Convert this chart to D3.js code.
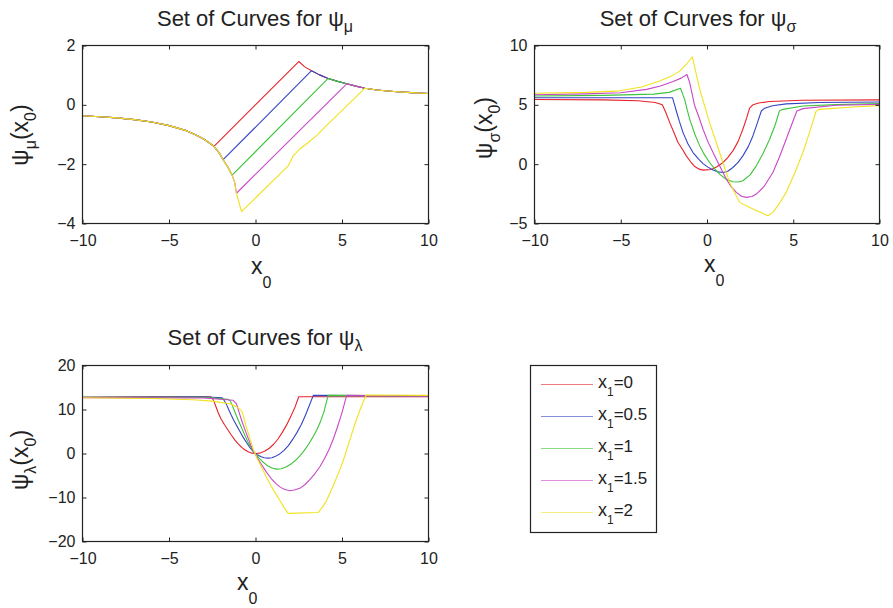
<!DOCTYPE html>
<html>
<head>
<meta charset="utf-8">
<script src="https://cdn.jsdelivr.net/npm/d3@7"></script>
<style>
  body { margin: 0; background: #fff; }
  svg { font-family: "Liberation Sans", Arial, Helvetica, sans-serif; }
</style>
</head>
<body>
<svg id="chart" width="893" height="608"></svg>
<script>
// x1 levels shown in the legend
var x1Labels = ['0', '0.5', '1', '1.5', '2']
var seriesColors = ['#e8232a', '#3445c2', '#3cc43a', '#c848c8', '#f0e21e']

var xTicks = [-10, -5, 0, 5, 10]
var muTicks = [-4, -2, 0, 2]
var sigmaTicks = [-5, 0, 5, 10]
var lambdaTicks = [-20, -10, 0, 10, 20]

// psi_mu curves
var muX1_0 = [[-10,-0.37],[-9,-0.4],[-8,-0.44],[-7,-0.5],[-6,-0.58],[-5,-0.7],[-4,-0.87],[-3.5,-1.0],[-3,-1.15],[-2.7,-1.27],[-2.4,-1.4],
  [2.5,1.46],[2.85,1.28],[3.24,1.15],[3.7,1.01],[4.2,0.89],[4.7,0.8],[5.27,0.71],[5.8,0.63],[6.33,0.56],[7,0.5],[8,0.45],[9,0.41],[10,0.38]]
var muX1_05 = [[-10,-0.37],[-9,-0.4],[-8,-0.44],[-7,-0.5],[-6,-0.58],[-5,-0.7],[-4,-0.87],[-3.5,-1.0],[-3,-1.15],[-2.7,-1.27],[-2.4,-1.4],[-2.1,-1.62],[-1.87,-1.85],
  [3.24,1.15],[3.7,1.01],[4.2,0.89],[4.7,0.8],[5.27,0.71],[5.8,0.63],[6.33,0.56],[7,0.5],[8,0.45],[9,0.41],[10,0.38]]
var muX1_1 = [[-10,-0.37],[-9,-0.4],[-8,-0.44],[-7,-0.5],[-6,-0.58],[-5,-0.7],[-4,-0.87],[-3.5,-1.0],[-3,-1.15],[-2.7,-1.27],[-2.4,-1.4],[-2.1,-1.62],[-1.87,-1.85],[-1.6,-2.1],[-1.35,-2.37],
  [4.2,0.89],[4.7,0.8],[5.27,0.71],[5.8,0.63],[6.33,0.56],[7,0.5],[8,0.45],[9,0.41],[10,0.38]]
var muX1_15 = [[-10,-0.37],[-9,-0.4],[-8,-0.44],[-7,-0.5],[-6,-0.58],[-5,-0.7],[-4,-0.87],[-3.5,-1.0],[-3,-1.15],[-2.7,-1.27],[-2.4,-1.4],[-2.1,-1.62],[-1.87,-1.85],[-1.6,-2.1],[-1.35,-2.37],[-1.2,-2.62],[-1.1,-2.98],
  [5.27,0.71],[5.8,0.63],[6.33,0.56],[7,0.5],[8,0.45],[9,0.41],[10,0.38]]
var muX1_2 = [[-10,-0.37],[-9,-0.4],[-8,-0.44],[-7,-0.5],[-6,-0.58],[-5,-0.7],[-4,-0.87],[-3.5,-1.0],[-3,-1.15],[-2.7,-1.27],[-2.4,-1.4],[-2.1,-1.62],[-1.87,-1.85],[-1.6,-2.1],[-1.35,-2.37],[-1.2,-2.62],[-1.1,-2.98],[-0.95,-3.3],[-0.81,-3.6],
  [1.89,-2.06],[2.18,-1.72],[2.56,-1.49],[3.05,-1.27],[3.53,-1.04],[3.92,-0.8],[6.33,0.56],[7,0.5],[8,0.45],[9,0.41],[10,0.38]]

// psi_sigma curves
var sigmaX1_0 = [[-10,5.45],[-6,5.42],[-4,5.35],[-3,5.2],[-2.59,5.0],[-2.4,4.4],[-2.16,3.5],[-1.9,2.6],[-1.68,1.82],[-1.4,1.2],[-1.2,0.7],[-0.95,0.2],[-0.71,-0.2],[-0.45,-0.42],[-0.23,-0.5],[0.25,-0.45],[0.6,-0.2],[0.93,0.14],[1.2,0.55],[1.5,1.12],[1.8,1.9],[2.08,2.94],[2.3,3.9],[2.47,4.72],[2.66,5.0],[3.0,5.15],[3.63,5.28],[5.56,5.39],[10,5.42]]
var sigmaX1_05 = [[-10,5.6],[-5,5.6],[-2.0,5.6],[-1.9,5.1],[-1.78,4.48],[-1.6,3.6],[-1.39,2.66],[-1.1,1.7],[-0.81,0.98],[-0.5,0.45],[-0.23,0.05],[0.05,-0.25],[0.35,-0.5],[0.65,-0.65],[0.93,-0.7],[1.2,-0.6],[1.5,-0.28],[1.8,0.15],[2.08,0.7],[2.4,1.5],[2.66,2.38],[2.9,3.4],[3.15,4.48],[3.34,4.72],[3.8,4.92],[4.59,5.08],[6.52,5.2],[10,5.24]]
var sigmaX1_1 = [[-10,5.75],[-6,5.8],[-3.09,5.9],[-2.2,6.05],[-1.54,6.4],[-1.42,5.95],[-1.29,5.42],[-1.15,4.6],[-1.0,3.78],[-0.7,2.5],[-0.42,1.54],[-0.15,0.8],[0.15,0.14],[0.45,-0.4],[0.73,-0.84],[1.1,-1.25],[1.5,-1.48],[1.8,-1.5],[2.08,-1.4],[2.5,-0.9],[2.86,-0.14],[3.25,0.9],[3.63,2.1],[3.95,3.3],[4.2,4.48],[4.4,4.62],[5.56,4.9],[7.5,5.02],[10,5.1]]
var sigmaX1_15 = [[-10,5.85],[-7,5.92],[-5.02,6.02],[-3.5,6.3],[-2.7,6.58],[-2.0,6.95],[-1.5,7.25],[-1.16,7.56],[-1.0,6.86],[-0.71,4.9],[-0.5,4.1],[-0.23,2.94],[0.05,1.9],[0.35,0.98],[0.75,-0.2],[1.12,-1.26],[1.4,-1.9],[1.7,-2.38],[2.0,-2.7],[2.28,-2.8],[2.6,-2.72],[2.86,-2.52],[3.3,-1.9],[3.82,-0.7],[4.2,0.6],[4.59,2.1],[4.9,3.3],[5.21,4.48],[5.56,4.68],[7.49,4.96],[10,5.04]]
var sigmaX1_2 = [[-10,5.98],[-7,6.05],[-5.06,6.18],[-3.8,6.5],[-2.74,7.0],[-2.1,7.4],[-1.58,7.84],[-1.2,8.4],[-0.85,9.05],[-0.42,6.3],[0.15,3.5],[0.73,0.98],[1.31,-1.54],[1.89,-3.22],[2.66,-3.78],[3.53,-4.34],[3.82,-4.06],[4.2,-3.3],[4.59,-2.38],[5.1,-0.7],[5.56,0.98],[5.95,2.7],[6.33,4.48],[6.52,4.62],[8.46,4.82],[10,4.93]]

// psi_lambda curves
var lambdaX1_0 = [[-10,12.8],[-6,12.9],[-2.6,12.9],[-2.45,12.3],[-2.3,10.8],[-2.15,9.2],[-2.0,7.9],[-1.8,6.6],[-1.6,5.4],[-1.4,4.2],[-1.2,3.1],[-1.0,2.2],[-0.8,1.4],[-0.6,0.8],[-0.4,0.35],[-0.2,0.08],[0.05,0],[0.3,0.15],[0.55,0.55],[0.8,1.2],[1.05,2.1],[1.3,3.3],[1.55,4.8],[1.8,6.5],[2.05,8.5],[2.3,10.7],[2.5,12.9],[5,12.9],[10,12.9]]
var lambdaX1_05 = [[-10,12.8],[-3,12.9],[-1.92,12.68],[-1.8,12.0],[-1.68,11.17],[-1.55,10.0],[-1.4,8.7],[-1.25,7.5],[-1.1,6.4],[-0.9,5.0],[-0.7,3.6],[-0.5,2.4],[-0.3,1.2],[-0.1,0.3],[0.1,-0.3],[0.3,-0.7],[0.5,-0.95],[0.73,-1.06],[0.95,-0.95],[1.15,-0.65],[1.4,-0.1],[1.65,0.7],[1.9,1.8],[2.15,3.2],[2.4,4.8],[2.65,6.6],[2.9,8.8],[3.1,10.8],[3.34,13.2],[10,13.1]]
var lambdaX1_1 = [[-10,12.8],[-3,12.8],[-1.58,12.3],[-1.45,11.9],[-1.35,11.0],[-1.2,9.5],[-1.0,7.6],[-0.8,5.8],[-0.6,4.0],[-0.4,2.3],[-0.2,1.0],[0,-0.1],[0.2,-1.0],[0.45,-2.0],[0.7,-2.8],[0.95,-3.3],[1.21,-3.55],[1.5,-3.45],[1.79,-3.02],[2.05,-2.4],[2.3,-1.6],[2.55,-0.6],[2.8,0.6],[3.05,2.0],[3.3,3.6],[3.55,5.4],[3.75,7.2],[3.95,9.4],[4.2,13.2],[10,13.1]]
var lambdaX1_15 = [[-10,12.7],[-3,12.6],[-1.29,12.1],[-1.1,11.3],[-0.95,9.4],[-0.81,7.6],[-0.6,5.3],[-0.4,3.2],[-0.2,1.2],[0,-0.3],[0.3,-2.2],[0.64,-4.3],[0.95,-5.9],[1.2,-6.9],[1.45,-7.7],[1.7,-8.2],[1.98,-8.45],[2.25,-8.3],[2.56,-7.92],[2.85,-7.1],[3.15,-5.9],[3.45,-4.5],[3.72,-3.0],[4.0,-1.1],[4.25,0.9],[4.5,3.3],[4.75,6.2],[5.0,9.3],[5.27,13.2],[10,13.0]]
var lambdaX1_2 = [[-10,12.68],[-6,12.5],[-3.6,12.2],[-2.5,11.9],[-1.48,11.3],[-1.1,10.6],[-0.81,9.8],[-0.7,8.5],[-0.52,5.89],[-0.3,3.1],[-0.13,0.98],[0.1,-1.2],[0.4,-3.5],[0.64,-5.43],[0.9,-7.4],[1.15,-9.0],[1.41,-10.7],[1.65,-12.3],[1.89,-13.6],[3.63,-13.4],[3.85,-12.3],[4.11,-10.7],[4.35,-8.6],[4.6,-6.3],[4.85,-3.9],[5.07,-1.66],[5.3,1.2],[5.55,4.3],[5.85,7.9],[6.1,10.5],[6.39,13.3],[10,13.2]]

var svg = d3.select('#chart')
svg.append('rect').attr('width', 893).attr('height', 608).attr('fill', '#fff')

// panel boxes (pixels) - matched to the reference layout
var panels = [
  { sym: 'μ', box: [82.5, 428.5, 45.5, 223.5], yDomain: [-4, 2], yTicks: muTicks,
    series: [muX1_0, muX1_05, muX1_1, muX1_15, muX1_2],
    titleX: 255, titleY: 26, ylabX: 28, ylabY: 135, xlabX: 251, xlabY: 274 },
  { sym: 'σ', box: [534.5, 879.5, 45.5, 223.5], yDomain: [-5, 10], yTicks: sigmaTicks,
    series: [sigmaX1_0, sigmaX1_05, sigmaX1_1, sigmaX1_15, sigmaX1_2],
    titleX: 698, titleY: 26, ylabX: 492, ylabY: 128, xlabX: 704, xlabY: 272 },
  { sym: 'λ', box: [82.5, 428.5, 365.5, 541.5], yDomain: [-20, 20], yTicks: lambdaTicks,
    series: [lambdaX1_0, lambdaX1_05, lambdaX1_1, lambdaX1_15, lambdaX1_2],
    titleX: 265, titleY: 345, ylabX: 28, ylabY: 460, xlabX: 237, xlabY: 590 }
]

panels.forEach(function(p) {
  var x = d3.scaleLinear().domain([-10, 10]).range([p.box[0], p.box[1]])
  var y = d3.scaleLinear().domain(p.yDomain).range([p.box[3], p.box[2]])
  var g = svg.append('g')

  var line = d3.line()
    .x(function(d) { return x(d[0]) })
    .y(function(d) { return y(d[1]) })

  g.selectAll('path.curve')
    .data(p.series)
    .enter().append('path')
    .attr('class', 'curve')
    .attr('d', line)
    .attr('fill', 'none')
    .attr('stroke', function(d, i) { return seriesColors[i] })
    .attr('stroke-width', 1.1)
    .attr('stroke-linejoin', 'round')

  // axes with inward ticks, box on
  var fmt = d3.format('d')
  var bottom = g.append('g').attr('transform', 'translate(0,' + p.box[3] + ')')
    .call(d3.axisBottom(x).tickValues(xTicks).tickFormat(fmt).tickSizeInner(-4).tickSizeOuter(0).tickPadding(11))
  var top = g.append('g').attr('transform', 'translate(0,' + p.box[2] + ')')
    .call(d3.axisTop(x).tickValues(xTicks).tickSizeInner(-4).tickSizeOuter(0).tickFormat(''))
  var left = g.append('g').attr('transform', 'translate(' + p.box[0] + ',0)')
    .call(d3.axisLeft(y).tickValues(p.yTicks).tickFormat(fmt).tickSizeInner(-4).tickSizeOuter(0).tickPadding(7))
  var right = g.append('g').attr('transform', 'translate(' + p.box[1] + ',0)')
    .call(d3.axisRight(y).tickValues(p.yTicks).tickSizeInner(-4).tickSizeOuter(0).tickFormat(''))

  ;[bottom, top, left, right].forEach(function(a) {
    a.select('.domain').remove()
    a.selectAll('line').attr('stroke', '#222')
    a.selectAll('text').attr('font-size', 16).attr('fill', '#222')
      .attr('font-family', '"Liberation Sans", Arial, sans-serif')
  })

  g.append('rect')
    .attr('x', p.box[0]).attr('y', p.box[2])
    .attr('width', p.box[1] - p.box[0]).attr('height', p.box[3] - p.box[2])
    .attr('fill', 'none').attr('stroke', '#222').attr('stroke-width', 1.2)

  // title
  var t = svg.append('text').attr('x', p.titleX).attr('y', p.titleY)
    .attr('text-anchor', 'middle').attr('font-size', 22).attr('fill', '#222')
  t.append('tspan').text('Set of Curves for ψ')
  t.append('tspan').attr('dy', 6).attr('font-size', 16).text(p.sym)

  // x label
  var xl = svg.append('text').attr('x', p.xlabX).attr('y', p.xlabY)
    .attr('font-size', 23).attr('fill', '#222')
  xl.append('tspan').text('x')
  xl.append('tspan').attr('dy', 14).attr('font-size', 16).text('0')

  // y label
  var yl = svg.append('text')
    .attr('transform', 'translate(' + p.ylabX + ',' + p.ylabY + ') rotate(-90)')
    .attr('text-anchor', 'middle').attr('font-size', 23).attr('fill', '#222')
  yl.append('tspan').text('ψ')
  yl.append('tspan').attr('dy', 8).attr('font-size', 16).text(p.sym)
  yl.append('tspan').attr('dy', -8).text('(x')
  yl.append('tspan').attr('dy', 8).attr('font-size', 16).text('0')
  yl.append('tspan').attr('dy', -8).text(')')
})

// legend
var legend = svg.append('g')
legend.append('rect')
  .attr('x', 530.5).attr('y', 365.5).attr('width', 126).attr('height', 167)
  .attr('fill', '#fff').attr('stroke', '#222').attr('stroke-width', 1.2)

var items = legend.selectAll('g.item')
  .data(x1Labels)
  .enter().append('g')
  .attr('class', 'item')
  .attr('transform', function(d, i) { return 'translate(0,' + (384.5 + i * 32) + ')' })

items.append('line')
  .attr('x1', 541).attr('x2', 593)
  .attr('stroke', function(d, i) { return seriesColors[i] })
  .attr('stroke-width', 1.1).attr('stroke-opacity', 0.6)

var lt = items.append('text').attr('x', 598).attr('y', 3)
  .attr('font-size', 18).attr('fill', '#222')
lt.append('tspan').text('x')
lt.append('tspan').attr('dy', 8).attr('font-size', 12).text('1')
lt.append('tspan').attr('dy', -8).attr('font-size', 17).text(function(d) { return '=' + d })
</script>
</body>
</html>
